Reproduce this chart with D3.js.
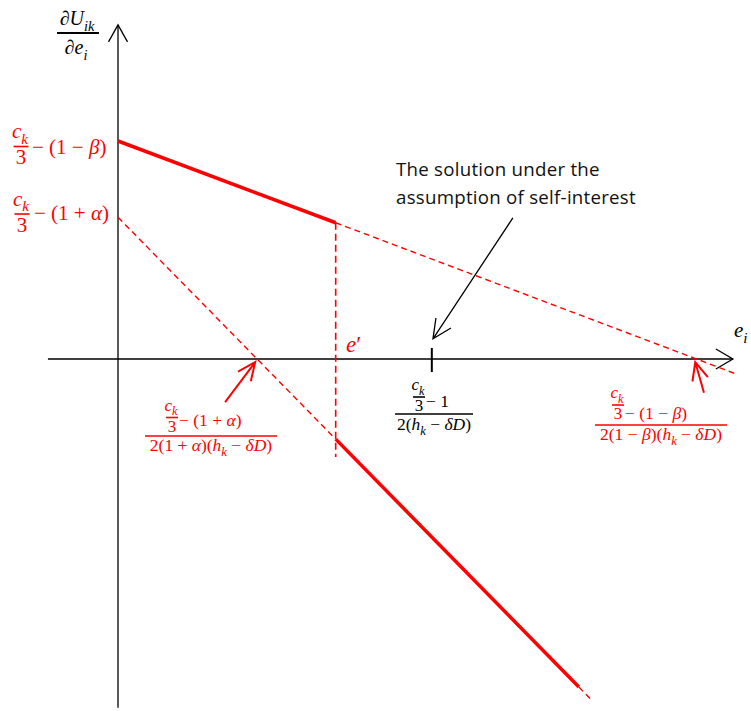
<!DOCTYPE html>
<html>
<head>
<meta charset="utf-8">
<title>marginal utility</title>
<style>
body { margin: 0; background: #fff; }
.math { font-family: "Liberation Serif", "DejaVu Serif", serif; }
.note { font-family: "Open Sans", Lato, sans-serif; font-size: 18.7px; letter-spacing: 0.25px; fill: #111; }
</style>
</head>
<body>
<svg width="751" height="711"></svg>
<script src="https://cdn.jsdelivr.net/npm/d3@7"></script>
<script>
// pieces of the two marginal utility lines, in (e_i, dU/de_i) units
var upperSolid = [[0, 40], [37.6, 25]];
var upperDashed = [[37.6, 25], [106.9, -2.8]];
var lowerDashed = [[0, 26], [37.6, -14.7]];
var lowerSolid = [[37.6, -14.7], [79.6, -60.2]];
var lowerTail = [[79.6, -60.2], [81.9, -62.7]];
var ePrimeLine = [[37.6, 25], [37.6, -18]];

// axis extents and the self-interest tick
var xAxisRange = [-12.1, 106.2];
var yAxisRange = [-64, 61.3];
var selfTick = [54.2];

// annotation arrows [from, to]
var blackArrow = [[68.2, 25.9], [54.4, 3.7]];
var redArrows = [
  [[18.5, -7.9], [23.7, -0.55]],
  [[101.2, -6.2], [99.7, -0.55]]
];

var noteLines = ["The solution under the", "assumption of self-interest"];

var RED = "#ff0000";

var svg = d3.select("svg");

var x = d3.scaleLinear().domain([0, 100]).range([118, 697]);
var y = d3.scaleLinear().domain([0, 40]).range([359, 141]);

var line = d3.line()
    .x(function(d) { return x(d[0]); })
    .y(function(d) { return y(d[1]); });

// open "V" arrow head at the end of a segment
function arrowHead(from, to, len, half) {
  var dx = to[0] - from[0], dy = to[1] - from[1];
  var L = Math.sqrt(dx * dx + dy * dy);
  var ux = dx / L, uy = dy / L;
  var bx = to[0] - ux * len, by = to[1] - uy * len;
  return "M" + (bx - uy * half) + "," + (by + ux * half) +
         "L" + to[0] + "," + to[1] +
         "L" + (bx + uy * half) + "," + (by - ux * half);
}
function px(p) { return [x(p[0]), y(p[1])]; }

// axes
var axes = svg.append("g").attr("stroke", "#000").attr("fill", "none").attr("stroke-width", 1.3);
axes.append("line")
    .attr("x1", x(xAxisRange[0])).attr("x2", x(xAxisRange[1]))
    .attr("y1", y(0)).attr("y2", y(0));
axes.append("line")
    .attr("x1", x(0)).attr("x2", x(0))
    .attr("y1", y(yAxisRange[0])).attr("y2", y(yAxisRange[1]));
axes.append("path").attr("d", arrowHead(px([xAxisRange[0], 0]), px([xAxisRange[1], 0]), 17, 10));
axes.append("path").attr("d", arrowHead(px([0, yAxisRange[0]]), px([0, yAxisRange[1]]), 17, 9.5));

axes.selectAll(".tick")
  .data(selfTick)
  .enter().append("line")
    .attr("stroke-width", 2)
    .attr("x1", function(d) { return x(d); }).attr("x2", function(d) { return x(d); })
    .attr("y1", y(0) - 11).attr("y2", y(0) + 13);

// red lines
var lines = svg.append("g").attr("fill", "none").attr("stroke", RED);
lines.append("path").datum(upperSolid).attr("d", line).attr("stroke-width", 3.5);
lines.append("path").datum(lowerSolid).attr("d", line).attr("stroke-width", 3.5);
[upperDashed, lowerDashed, lowerTail].forEach(function(seg) {
  lines.append("path").datum(seg).attr("d", line)
      .attr("stroke-width", 1.4).attr("stroke-dasharray", "6,4");
});
lines.append("path").datum(ePrimeLine).attr("d", line)
    .attr("stroke-width", 1.6).attr("stroke-dasharray", "7,4");

// arrows
svg.append("path")
    .attr("d", line(blackArrow) + arrowHead(px(blackArrow[0]), px(blackArrow[1]), 19, 9))
    .attr("fill", "none").attr("stroke", "#000").attr("stroke-width", 1.3);
redArrows.forEach(function(a) {
  svg.append("path")
      .attr("d", line(a) + arrowHead(px(a[0]), px(a[1]), 18, 8))
      .attr("fill", "none").attr("stroke", RED).attr("stroke-width", 2);
});

// text helpers: parts are [string, "n" | "i" | "sub"]
function mtext(g, tx, ty, parts, size, anchor, color) {
  var t = g.append("text").attr("class", "math")
      .attr("x", tx).attr("y", ty)
      .attr("font-size", size)
      .attr("text-anchor", anchor || "start")
      .attr("fill", color || "#000");
  var shift = 0;
  parts.forEach(function(p) {
    var s = t.append("tspan").text(p[0]);
    var want = p[1] === "sub" ? size * 0.28 : 0;
    if (want !== shift) { s.attr("dy", want - shift); shift = want; }
    if (p[1] === "i" || p[1] === "sub") s.attr("font-style", "italic");
    if (p[1] === "sub") s.attr("font-size", size * 0.72);
  });
  return t;
}
function bar(g, x1, x2, yy, w, color) {
  g.append("line").attr("x1", x1).attr("x2", x2).attr("y1", yy).attr("y2", yy)
      .attr("stroke", color).attr("stroke-width", w);
}
// c_k over 3
function ck3(g, cx, yLine, size, w, color) {
  mtext(g, cx - 1, yLine - size * 0.4, [["c", "i"], ["k", "sub"]], size, "middle", color);
  bar(g, cx - w / 2, cx + w / 2, yLine, 1.6, color);
  mtext(g, cx, yLine + size * 0.85, [["3", "n"]], size, "middle", color);
}

var labels = svg.append("g");

// y axis title
mtext(labels, 77, 25, [["\u2202", "n"], ["U", "i"], ["ik", "sub"]], 20, "middle");
bar(labels, 57, 99, 33, 2.2, "#000");
mtext(labels, 76, 54, [["\u2202", "n"], ["e", "i"], ["i", "sub"]], 20, "middle");

// x axis title
mtext(labels, 734, 337, [["e", "i"], ["i", "sub"]], 21, "start");

// y intercepts
ck3(labels, 21, 146.5, 21, 15, RED);
mtext(labels, 32, 154, [["\u2212 (1 \u2212 ", "n"], ["\u03b2", "i"], [")", "n"]], 21, "start", RED);
ck3(labels, 22, 214, 21, 15, RED);
mtext(labels, 34, 220, [["\u2212 (1 + ", "n"], ["\u03b1", "i"], [")", "n"]], 21, "start", RED);

// e'
mtext(labels, 346, 352, [["e", "i"], ["\u2032", "n"]], 23, "start", RED);

// x intercept of the lower line
ck3(labels, 172, 417.5, 17, 12, RED);
mtext(labels, 179, 426, [[" \u2212 (1 + ", "n"], ["\u03b1", "i"], [")", "n"]], 17.5, "start", RED);
bar(labels, 145, 277, 436, 1.6, RED);
mtext(labels, 211, 451, [["2(1 + ", "n"], ["\u03b1", "i"], [")(", "n"], ["h", "i"], ["k", "sub"],
    [" \u2212 ", "n"], ["\u03b4D", "i"], [")", "n"]], 17.5, "middle", RED);

// self-interest solution
ck3(labels, 419, 397, 17, 12, "#000");
mtext(labels, 426, 407, [[" \u2212 1", "n"]], 17.5, "start");
bar(labels, 395, 473, 414, 1.6, "#000");
mtext(labels, 434, 430, [["2(", "n"], ["h", "i"], ["k", "sub"], [" \u2212 ", "n"], ["\u03b4D", "i"], [")", "n"]], 17.5, "middle");

// x intercept of the upper line
ck3(labels, 618, 405, 17, 12, RED);
mtext(labels, 625, 419, [[" \u2212 (1 \u2212 ", "n"], ["\u03b2", "i"], [")", "n"]], 17.5, "start", RED);
bar(labels, 595, 727, 425, 1.6, RED);
mtext(labels, 661, 440, [["2(1 \u2212 ", "n"], ["\u03b2", "i"], [")(", "n"], ["h", "i"], ["k", "sub"],
    [" \u2212 ", "n"], ["\u03b4D", "i"], [")", "n"]], 17.5, "middle", RED);

// note
labels.selectAll(".note")
  .data(noteLines)
  .enter().append("text")
    .attr("class", "note")
    .attr("x", 396)
    .attr("y", function(d, i) { return 176 + i * 28; })
    .text(function(d) { return d; });
</script>
</body>
</html>
